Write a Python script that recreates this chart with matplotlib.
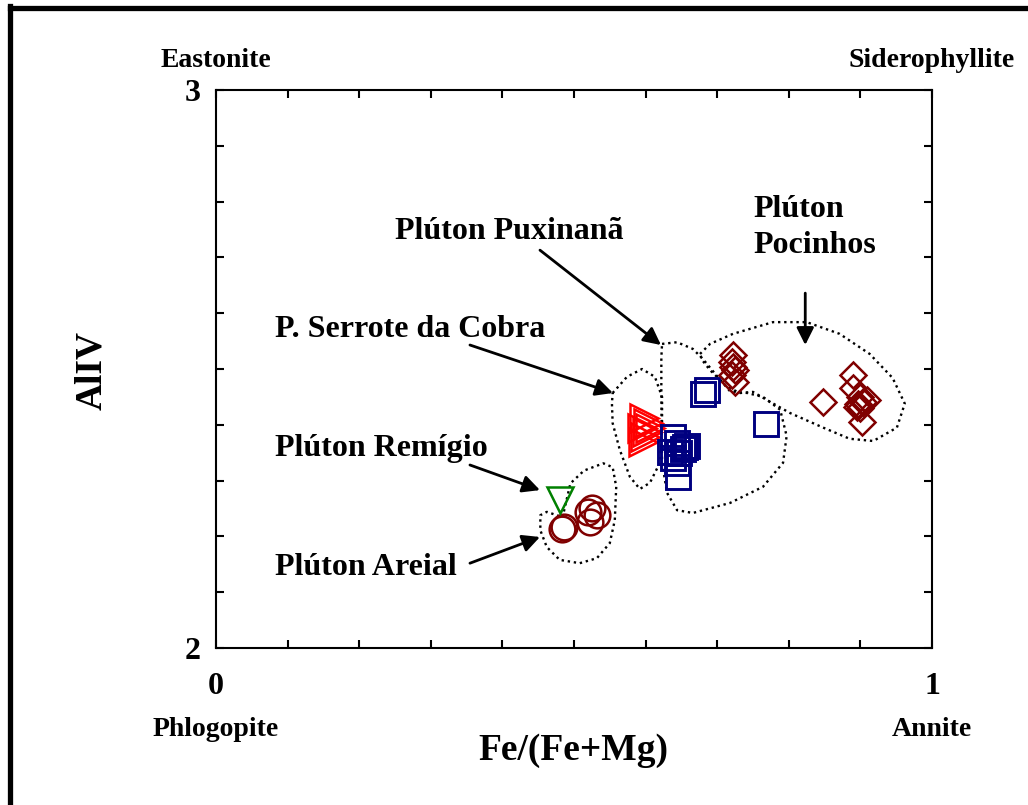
"""
Biotite classification diagram AlIV vs Fe/(Fe+Mg) for the plutons
(Areial, Remígio, Serrote da Cobra, Puxinanã, Pocinhos).
"""

import matplotlib
matplotlib.use("Agg")
import matplotlib.pyplot as plt
from matplotlib.lines import Line2D
import numpy as np

# ---- data ------------------------------------------------------------------
areial_x = [0.483, 0.486, 0.522, 0.525, 0.532, 0.520]
areial_y = [2.213, 2.217, 2.226, 2.251, 2.238, 2.244]

remigio_x = [0.480]
remigio_y = [2.265]

serrote_x = [0.598, 0.603, 0.595, 0.602, 0.599, 0.606, 0.596]
serrote_y = [2.412, 2.403, 2.394, 2.387, 2.378, 2.394, 2.369]

puxinana_x = [0.686, 0.680, 0.768, 0.638, 0.655, 0.644, 0.652, 0.634,
              0.638, 0.644, 0.645, 0.658, 0.647]
puxinana_y = [2.462, 2.455, 2.401, 2.378, 2.360, 2.367, 2.357, 2.351,
              2.341, 2.332, 2.306, 2.362, 2.349]

pocinhos_x = [0.722, 0.721, 0.722, 0.725, 0.721, 0.725,
              0.890, 0.890, 0.848, 0.899, 0.904, 0.895, 0.899, 0.902, 0.909, 0.897]
pocinhos_y = [2.525, 2.513, 2.504, 2.498, 2.489, 2.477,
              2.489, 2.466, 2.441, 2.450, 2.441, 2.432, 2.430, 2.405, 2.444, 2.438]

# hand-drawn field outlines (x, y in data units)
field_areial = [(0.484, 2.234), (0.495, 2.295), (0.514, 2.318), (0.541, 2.331),
                (0.554, 2.324), (0.559, 2.289), (0.557, 2.229), (0.550, 2.188),
                (0.532, 2.161), (0.508, 2.152), (0.480, 2.158), (0.462, 2.181),
                (0.453, 2.211), (0.453, 2.238), (0.462, 2.244), (0.476, 2.238)]
field_serrote = [(0.554, 2.457), (0.574, 2.486), (0.595, 2.500), (0.613, 2.486),
                 (0.623, 2.450), (0.623, 2.391), (0.620, 2.332), (0.606, 2.296),
                 (0.592, 2.285), (0.578, 2.307), (0.564, 2.355), (0.554, 2.403),
                 (0.553, 2.438)]
field_puxinana = [(0.623, 2.545), (0.644, 2.548), (0.666, 2.536), (0.680, 2.518),
                  (0.700, 2.487), (0.718, 2.460), (0.742, 2.457), (0.764, 2.450),
                  (0.788, 2.427), (0.797, 2.380), (0.792, 2.332), (0.764, 2.289),
                  (0.718, 2.260), (0.666, 2.242), (0.644, 2.247), (0.630, 2.278),
                  (0.623, 2.332), (0.622, 2.450), (0.622, 2.520)]
field_pocinhos = [(0.676, 2.527), (0.690, 2.545), (0.722, 2.563), (0.778, 2.584),
                  (0.825, 2.584), (0.871, 2.563), (0.913, 2.527), (0.945, 2.484),
                  (0.962, 2.438), (0.951, 2.395), (0.918, 2.371), (0.885, 2.375),
                  (0.848, 2.395), (0.802, 2.421), (0.770, 2.444), (0.750, 2.459),
                  (0.732, 2.457), (0.714, 2.468), (0.690, 2.498), (0.679, 2.516)]

x_tick_labels = {0.0: "0", 1.0: "1"}
y_tick_labels = {2.0: "2", 3.0: "3"}

FONT = "Liberation Serif"


def draw_field(ax, pts):
    xy = np.array(pts + pts[:1])
    ax.plot(xy[:, 0], xy[:, 1], color="black", lw=1.7,
            linestyle=(0, (1, 1.6)), zorder=1)


def main() -> None:
    plt.rcParams["font.family"] = [FONT, "DejaVu Serif"]
    plt.rcParams["font.weight"] = "bold"

    fig = plt.figure(figsize=(10.28, 8.05), dpi=100)
    ax = fig.add_axes([0.2101, 0.195, 0.6965, 0.6932])

    for f in (field_areial, field_serrote, field_puxinana, field_pocinhos):
        draw_field(ax, f)

    mk = dict(linestyle="none", markerfacecolor="none", zorder=3)
    ax.plot(areial_x, areial_y, marker="o", ms=18.5, mew=1.8, markeredgecolor="#800000", **mk)
    ax.plot(remigio_x, remigio_y, marker="v", ms=18.5, mew=1.8, markeredgecolor="#008000", **mk)
    ax.plot(serrote_x, serrote_y, marker=">", ms=20, mew=1.8, markeredgecolor="#ff0000", **mk)
    ax.plot(puxinana_x, puxinana_y, marker="s", ms=17.5, mew=2.1, markeredgecolor="#000080", **mk)
    ax.plot(pocinhos_x, pocinhos_y, marker="D", ms=13, mew=1.8, markeredgecolor="#800000", **mk)

    ax.set_xlim(0, 1)
    ax.set_ylim(2, 3)
    xt = np.round(np.arange(0, 1.01, 0.1), 2)
    yt = np.round(np.arange(2, 3.01, 0.1), 2)
    ax.set_xticks(xt)
    ax.set_yticks(yt)
    ax.set_xticklabels([x_tick_labels.get(float(v), "") for v in xt])
    ax.set_yticklabels([y_tick_labels.get(float(v), "") for v in yt])
    ax.tick_params(direction="in", length=6, width=1.5, top=True, right=True,
                   labelsize=23)
    ax.tick_params(axis="x", pad=17)
    ax.tick_params(axis="y", pad=11)
    for lab in ax.get_xticklabels() + ax.get_yticklabels():
        lab.set_fontweight("bold")
    for s in ax.spines.values():
        s.set_linewidth(1.5)

    # corner end-member names
    def fig_txt(px, py, s, size, **kw):
        fig.text(px / 1028, 1 - py / 805, s, fontsize=size, fontweight="bold", **kw)

    fig_txt(216, 67, "Eastonite", 20, ha="center", va="baseline")
    fig_txt(932, 67, "Siderophyllite", 20, ha="center", va="baseline")
    fig_txt(216, 736, "Phlogopite", 20, ha="center", va="baseline")
    fig_txt(932, 736, "Annite", 20, ha="center", va="baseline")
    fig_txt(573, 760, "Fe/(Fe+Mg)", 27, ha="center", va="baseline")
    fig_txt(92, 370, "AlIV", 27, ha="center", va="center", rotation=90)

    # pluton labels with arrows
    arrow = dict(arrowstyle="-|>", color="black", lw=2, mutation_scale=26,
                 shrinkA=0, shrinkB=0)
    lab = dict(fontsize=23, fontweight="bold", ha="left", va="center")
    ax.text(0.751, 2.754, "Plúton\nPocinhos", linespacing=1.3, clip_on=False, **lab)
    ax.annotate("", xy=(0.823, 2.543), xytext=(0.823, 2.636), arrowprops=arrow)
    ax.text(0.250, 2.746, "Plúton Puxinanã", clip_on=False, **lab)
    ax.annotate("", xy=(0.6215, 2.543), xytext=(0.4525, 2.713), arrowprops=arrow)
    ax.text(0.0824, 2.570, "P. Serrote da Cobra", **lab)
    ax.annotate("", xy=(0.5545, 2.457), xytext=(0.3547, 2.543), arrowprops=arrow)
    ax.text(0.0824, 2.358, "Plúton Remígio", **lab)
    ax.annotate("", xy=(0.4525, 2.283), xytext=(0.3547, 2.328), arrowprops=arrow)
    ax.text(0.0824, 2.145, "Plúton Areial", **lab)
    ax.annotate("", xy=(0.4525, 2.199), xytext=(0.3547, 2.152), arrowprops=arrow)

    # thick page frame (only left and top edges fall inside the picture)
    fig.add_artist(Line2D([9.5 / 1028, 9.5 / 1028], [0, 1 - 6 / 805],
                          color="black", lw=3.8, solid_capstyle="projecting"))
    fig.add_artist(Line2D([9.5 / 1028, 1], [1 - 8.5 / 805, 1 - 8.5 / 805],
                          color="black", lw=3.8, solid_capstyle="projecting"))

    fig.savefig("out.png", dpi=100)
    plt.close(fig)


if __name__ == "__main__":
    main()
